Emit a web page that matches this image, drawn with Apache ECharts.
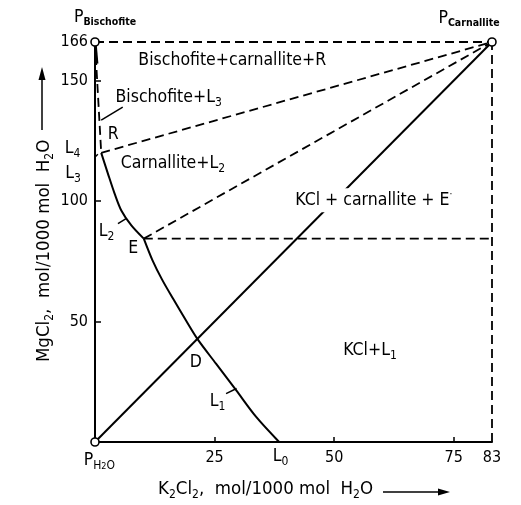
<!DOCTYPE html>
<html><head><meta charset="utf-8">
<script src="https://cdn.jsdelivr.net/npm/echarts@6/dist/echarts.min.js"></script>
<style>html,body{margin:0;padding:0;background:#fff}#c{width:521px;height:505px}</style>
</head><body><div id="c"></div>
<script>
// ---- data ----
const xTickLabels = [25, 50, 75, 83];
const yTickLabels = [50, 100, 150, 166];
const xMax = 83, yMax = 166;
const pH2O = [0, 0];
const pBischofite = [0, 166];
const pCarnallite = [83, 166];
const L3 = [1.3, 120];
const E = [10.2, 84.4];
const D = [21.4, 42.8];
const L0 = [38.5, 0];
const curveL3toE = [[1.3, 120], [2.7, 111.4], [4.1, 103.1], [5.5, 96.1], [7.6, 89.9], [10.2, 84.4]];
const curveEtoL0 = [[10.2, 84.4], [12.0, 75.5], [14.0, 67.5], [16.4, 59.2], [19.0, 50.5], [21.4, 42.8], [25.3, 32.5], [29.5, 21.5], [33.7, 10.4], [38.5, 0]];
const bischofiteLine = [[0, 166], [1.3, 120]];
const bischofiteSolid = [[0, 166], [0.4, 157]];

const FONT = '"DejaVu Sans Condensed", "Liberation Sans Narrow", "DejaVu Sans", sans-serif';
const INK = '#000';

const rich = {
  n: { fontSize: 17.5, lineHeight: 22, fontFamily: FONT, color: INK },
  t: { fontSize: 18.5, lineHeight: 22, fontFamily: FONT, color: INK },
  s: { fontSize: 12, lineHeight: 12, padding: [11, 0, 0, 0], fontFamily: FONT, color: INK },
  sb: { fontSize: 10.5, lineHeight: 10, padding: [10, 0, 0, 0], fontFamily: FONT, color: INK, fontWeight: 'bold' },
  ss: { fontSize: 9, lineHeight: 9, padding: [14, 0, 0, 0], fontFamily: FONT, color: INK },
  sup: { fontSize: 10, lineHeight: 10, padding: [0, 0, 12, 0], fontFamily: FONT, color: INK }
};

function lab(pos, text) {
  return { value: pos, label: { formatter: text } };
}
const labels = [
  lab([28.7, 158.4], '{n|Bischofite+carnallite+R}'),
  lab([15.4, 143], '{n|Bischofite+L}{s|3}'),
  lab([3.8, 127.5], '{n|R}'),
  lab([-4.7, 122], '{n|L}{s|4}'),
  lab([-4.6, 111.5], '{n|L}{s|3}'),
  lab([16.3, 115.5], '{n|Carnallite+L}{s|2}'),
  lab([2.4, 87.5], '{n|L}{s|2}'),
  lab([8.0, 80.5], '{n|E}'),
  lab([57.5, 38.0], '{n|KCl+L}{s|1}'),
  lab([21.1, 33.0], '{n|D}'),
  lab([25.6, 17.0], '{n|L}{s|1}'),
  lab([38.8, -5.8], '{n|L}{s|0}'),
  lab([0.9, -7.5], '{n|P}{s|H}{ss|2}{s|O}'),
  lab([2.1, 176.2], '{n|P}{sb|Bischofite}'),
  lab([78.2, 175.8], '{n|P}{sb|Carnallite}')
];
const boxedLabels = [lab([58.3, 100.3], '{n|KCl + carnallite + E}{sup|\u00b7}')];

function lineSeries(data, dashed, width, smooth) {
  return {
    type: 'line', data: data, symbol: 'none', clip: false, silent: true, z: 3,
    smooth: smooth || false,
    lineStyle: { color: INK, width: width || 2, type: dashed ? [9, 5] : 'solid' }
  };
}

const chart = echarts.init(document.getElementById('c'), null, { renderer: 'canvas' });
chart.setOption({
  animation: false,
  backgroundColor: '#fff',
  grid: { left: 95, top: 42, width: 397, height: 400, containLabel: false },
  xAxis: {
    type: 'value', min: 0, max: xMax,
    axisLine: { show: true, onZero: false, lineStyle: { color: INK, width: 2 } },
    axisTick: { show: true, inside: true, length: 5, lineStyle: { color: INK, width: 1.5 }, customValues: [25, 50, 75] },
    axisLabel: { show: true, margin: 8, fontSize: 16, fontFamily: FONT, color: INK, customValues: xTickLabels },
    splitLine: { show: false }
  },
  yAxis: {
    type: 'value', min: 0, max: yMax,
    axisLine: { show: true, onZero: false, lineStyle: { color: INK, width: 2 } },
    axisTick: { show: true, inside: true, length: 6, lineStyle: { color: INK, width: 1.5 }, customValues: [50, 100, 150] },
    axisLabel: { show: true, margin: 7, fontSize: 16, fontFamily: FONT, color: INK, customValues: yTickLabels },
    splitLine: { show: false }
  },
  graphic: [
    { type: 'text', left: 158, top: 478, style: { rich: rich, text: '{t|K}{s|2}{t|Cl}{s|2}{t|,  mol/1000 mol  H}{s|2}{t|O}' } },
    { type: 'line', shape: { x1: 383, y1: 492, x2: 440, y2: 492 }, style: { stroke: INK, lineWidth: 1.5 } },
    { type: 'polygon', shape: { points: [[450, 492], [438, 488.5], [438, 495.5]] }, style: { fill: INK } },
    { type: 'text', x: 33, y: 362, rotation: Math.PI / 2, style: { rich: rich, text: '{t|MgCl}{s|2}{t|,  mol/1000 mol  H}{s|2}{t|O}' } },
    { type: 'line', shape: { x1: 42, y1: 130, x2: 42, y2: 78 }, style: { stroke: INK, lineWidth: 1.5 } },
    { type: 'polygon', shape: { points: [[42, 67], [38.5, 80], [45.5, 80]] }, style: { fill: INK } }
  ],
  series: [
    lineSeries([[0, yMax], [xMax, yMax]], true, 1.8),
    lineSeries([[xMax, 0], [xMax, yMax]], true, 1.8),
    lineSeries(bischofiteLine, true, 1.8),
    lineSeries(bischofiteSolid, false, 3),
    lineSeries([L3, pCarnallite], true, 1.8),
    lineSeries([E, pCarnallite], true, 1.8),
    lineSeries([E, [xMax, E[1]]], true, 1.8),
    lineSeries([pH2O, pCarnallite], false, 2),
    lineSeries(curveL3toE, false, 2, 0.3),
    lineSeries(curveEtoL0, false, 2, 0.3),
    // leader lines
    lineSeries([[5.8, 139], [1.3, 133.6]], false, 1.5),
    lineSeries([[-2.6, 113.4], [0.6, 119.4]], false, 1.5),
    lineSeries([[4.8, 90.6], [6.5, 92.7]], false, 1.5),
    lineSeries([[27.4, 20.1], [29.6, 22.2]], false, 1.5),
    {
      type: 'scatter', data: [pH2O, pBischofite, pCarnallite], symbol: 'circle', symbolSize: 8, z: 5, clip: false,
      itemStyle: { color: '#fff', borderColor: INK, borderWidth: 1.6, opacity: 1 }
    },
    {
      type: 'scatter', data: labels, symbolSize: 0, z: 6, clip: false, silent: true,
      itemStyle: { opacity: 1 },
      label: { show: true, position: 'inside', rich: rich, color: INK, textBorderWidth: 0 }
    },
    {
      type: 'scatter', data: boxedLabels, symbolSize: 0, z: 7, zlevel: 0, clip: false, silent: true,
      itemStyle: { opacity: 1 },
      label: { show: true, position: 'inside', rich: rich, color: INK, textBorderWidth: 0,
        backgroundColor: '#ffffff', padding: [1, 3, 1, 3] }
    }
  ]
});
</script></body></html>
